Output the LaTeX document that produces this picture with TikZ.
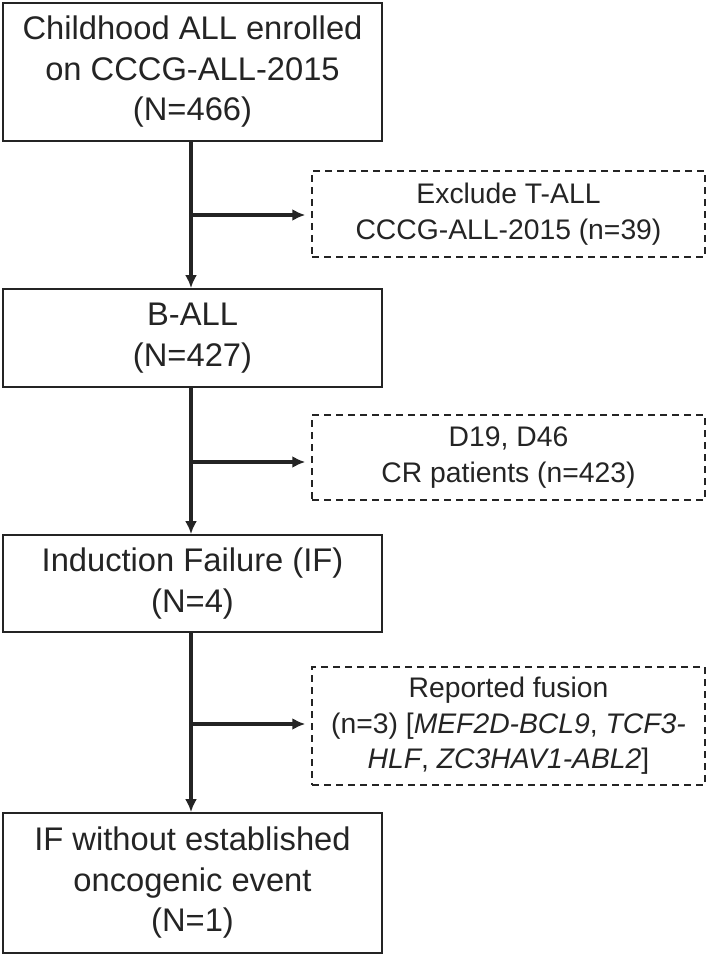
\documentclass[tikz,border=0pt]{standalone}
\usepackage{fontspec}
\setmainfont{Liberation Sans}
\usepackage{tikz}
\usetikzlibrary{arrows.meta,calc,positioning}
\definecolor{ink}{HTML}{242424}
\newcommand{\gene}[1]{\textit{#1}}

\begin{document}
\begin{tikzpicture}[x=1pt,y=-1pt,>={Latex[length=13pt,width=12pt]},
  stagebox/.style={draw=ink,line width=1.8pt,text=ink,align=center,
    minimum width=379pt,inner sep=0pt,font=\fontsize{32.7}{40.5}\selectfont},
  exclbox/.style={draw=ink,line width=1.5pt,dash pattern=on 7pt off 5pt,text=ink,
    align=center,minimum width=393pt,inner sep=0pt,font=\fontsize{28.3}{35.5}\selectfont},
  flow/.style={draw=ink,line width=3.3pt,->}]
  \useasboundingbox (0,0) rectangle (709,957);

  % Main stages
  \node[stagebox,minimum height=138pt] (enrol) at (192.5,72)
    {Childhood ALL enrolled\\on CCCG-ALL-2015\\(N=466)};
  \node[stagebox,minimum height=98pt] (ball) at (192.5,338) {B-ALL\\(N=427)};
  \node[stagebox,minimum height=97pt] (indf) at (192.5,583.5)
    {Induction Failure (IF)\\(N=4)};
  \node[stagebox,minimum height=140pt] (noevent) at (192.5,883)
    {IF without established\\oncogenic event\\(N=1)};

  % Exclusions
  \node[exclbox,minimum height=86pt] (exclT) at (508.5,214)
    {Exclude T-ALL\\CCCG-ALL-2015 (n=39)};
  \node[exclbox,minimum height=85pt] (exclCR) at (508.5,457.5)
    {D19, D46\\CR patients (n=423)};
  \node[exclbox,minimum height=118pt] (exclFus) at (508.5,726)
    {Reported fusion\\(n=3) [\gene{MEF2D-BCL9}, \gene{TCF3-}\\\gene{HLF}, \gene{ZC3HAV1-ABL2}]};

  % Vertical flow
  \draw[flow] (enrol.south -| 191,0) -- (ball.north -| 191,0);
  \draw[flow] (ball.south -| 191,0) -- (indf.north -| 191,0);
  \draw[flow] (indf.south -| 191,0) -- (noevent.north -| 191,0);

  % Branches to exclusions
  \coordinate (splitT) at (191,215);
  \coordinate (splitCR) at (191,462);
  \coordinate (splitFus) at (191,724);
  \draw[flow] (splitT) -- ($(splitT -| exclT.west)+(-6,0)$);
  \draw[flow] (splitCR) -- ($(splitCR -| exclCR.west)+(-6,0)$);
  \draw[flow] (splitFus) -- ($(splitFus -| exclFus.west)+(-6,0)$);
\end{tikzpicture}
\end{document}
